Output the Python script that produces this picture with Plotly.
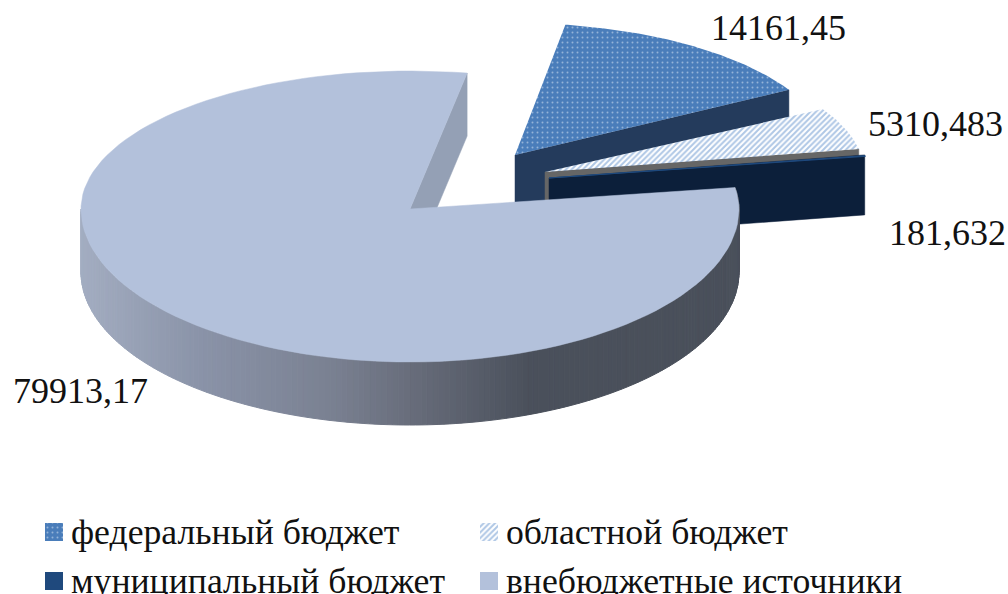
import math
import plotly.graph_objects as go

# --- data ---
categories = ["федеральный бюджет", "областной бюджет", "муниципальный бюджет", "внебюджетные источники"]
values = [14161.45, 5310.483, 181.632, 79913.17]
value_labels = ["14161,45", "5310,483", "181,632", "79913,17"]

# --- drawing geometry (pixels of the 1008x594 canvas) ---
W, H = 1008, 594
FONT = "Liberation Serif"
apex = [(515, 155), (545, 172), (549, 178), (410, 209)]
rx = [315, 319, 321, 329]
ry_back = [132, 128, 128, 138]
ry_front = [132, 128, 128, 153]
depth = [60, 60, 60, 63]
rotation = [9.2, 9.2, 9.2, 10.0]
wall_cols = ["#243b5c", "#666666", "#0c1f3a", "#94a0b5"]
label_xy = [(778, 28), (935, 124), (947, 233), (80, 391)]
legend_xy = [(45, 532), (480, 532), (45, 581), (480, 581)]
SWATCH = 18
grad_stops = [(80, "#a3adc1"), (200, "#8a93a8"), (330, "#7a8192"), (410, "#686d7b"), (530, "#4a505b"), (740, "#4a505b")]


def hex2rgb(c):
    return [int(c[i:i + 2], 16) for i in (1, 3, 5)]


def grad(x):
    for (x0, c0), (x1, c1) in zip(grad_stops, grad_stops[1:]):
        if x0 <= x <= x1:
            t = (x - x0) / (x1 - x0)
            p, q = hex2rgb(c0), hex2rgb(c1)
            return "rgb(%d,%d,%d)" % tuple(round(u + (v - u) * t) for u, v in zip(p, q))
    return grad_stops[-1][1] if x > x1 else grad_stops[0][1]


total = sum(values)
spans = [v / total * 360 for v in values]
starts = []
acc = rotation[0]
for s in spans:
    starts.append(acc)
    acc += s
# the big slice is closed against the start of the pie
starts[3] = rotation[3] + 360 - spans[3]


def rim(i, a, dy=0):
    t = math.radians(a)
    c = math.cos(t)
    ry = ry_back[i] if c > 0 else ry_front[i]
    return apex[i][0] + rx[i] * math.sin(t), apex[i][1] - ry * c + dy


def arc(i, a0, a1, dy=0, n=120):
    pts = [rim(i, a0 + (a1 - a0) * k / n, dy) for k in range(n + 1)]
    return [p[0] for p in pts], [p[1] for p in pts]


def add_poly(fig, xs, ys, **kw):
    style = dict(mode="lines", fill="toself", hoverinfo="skip", showlegend=False)
    style.update(kw)
    fig.add_trace(go.Scatter(x=xs, y=ys, **style))


def wall(fig, i, angle, col):
    px, py = apex[i]
    ex, ey = rim(i, angle)
    d = depth[i]
    add_poly(fig, [px, ex, ex, px, px], [py, ey, ey + d, py + d, py],
             fillcolor=col, line=dict(color=col, width=0.5))


def top(fig, i, pattern=None, fill=None, line=None):
    a0, a1 = starts[i], starts[i] + spans[i]
    xs, ys = arc(i, a0, a1)
    xs = [apex[i][0]] + xs + [apex[i][0]]
    ys = [apex[i][1]] + ys + [apex[i][1]]
    kw = dict(line=line or dict(width=0, color="rgba(0,0,0,0)"))
    if pattern:
        kw["fillpattern"] = pattern
    if fill:
        kw["fillcolor"] = fill
    add_poly(fig, xs, ys, **kw)


fed_pattern = dict(shape=".", bgcolor="#4a7dba", fgcolor="#dfe9f5", size=5, solidity=0.12)
obl_pattern = dict(shape="/", bgcolor="#ffffff", fgcolor="#5f90cc", size=4, solidity=0.5)
main_col = "#b3c1db"
muni_col = "#1f497d"

fig = go.Figure()

# federal slice
wall(fig, 0, starts[0] + spans[0], wall_cols[0])
top(fig, 0, pattern=fed_pattern)
# regional slice
wall(fig, 1, starts[1] + spans[1], wall_cols[1])
top(fig, 1, pattern=obl_pattern)
# municipal slice
wall(fig, 2, starts[2], wall_cols[2])
top(fig, 2, fill=muni_col, line=dict(color=muni_col, width=1))
# extra-budget slice: inner wall, outer wall in strips, then the top
wall(fig, 3, starts[3] + spans[3], wall_cols[3])
step = 1.0
a = starts[3]
while a < 270:
    b = min(a + step, 270)
    x0, y0 = arc(3, a, b, 0, 2)
    x1, y1 = arc(3, a, b, depth[3], 2)
    col = grad((x0[0] + x0[-1]) / 2)
    add_poly(fig, x0 + x1[::-1] + [x0[0]], y0 + y1[::-1] + [y0[0]],
             fillcolor=col, line=dict(color=col, width=1))
    a = b
top(fig, 3, fill=main_col, line=dict(color=main_col, width=0.5))

# legend swatches
styles = [dict(fillpattern=fed_pattern), dict(fillpattern=obl_pattern),
          dict(fillcolor=muni_col), dict(fillcolor=main_col)]
annotations = []
for (lx, ly), name, st in zip(legend_xy, categories, styles):
    h = SWATCH / 2
    add_poly(fig, [lx, lx + SWATCH, lx + SWATCH, lx, lx], [ly - h, ly - h, ly + h, ly + h, ly - h],
             name=name, line=dict(width=0, color="rgba(0,0,0,0)"), **st)
    annotations.append(dict(x=lx + SWATCH + 6, y=ly, text=name, xanchor="left", yanchor="middle",
                            showarrow=False, font=dict(family=FONT, size=35.7, color="#111111")))

for (tx, ty), t in zip(label_xy, value_labels):
    annotations.append(dict(x=tx, y=ty, text=t, xanchor="center", yanchor="middle", showarrow=False,
                            font=dict(family=FONT, size=36, color="#111111")))

fig.update_layout(
    width=W, height=H, margin=dict(l=0, r=0, t=0, b=0), autosize=False,
    paper_bgcolor="white", plot_bgcolor="white", showlegend=False,
    xaxis=dict(range=[0, W], visible=False, fixedrange=True),
    yaxis=dict(range=[H, 0], visible=False, fixedrange=True),
    annotations=annotations,
)
fig.write_html("out.html", config=dict(displayModeBar=False),
               post_script="document.body.style.margin='0';document.body.style.overflow='hidden';")
